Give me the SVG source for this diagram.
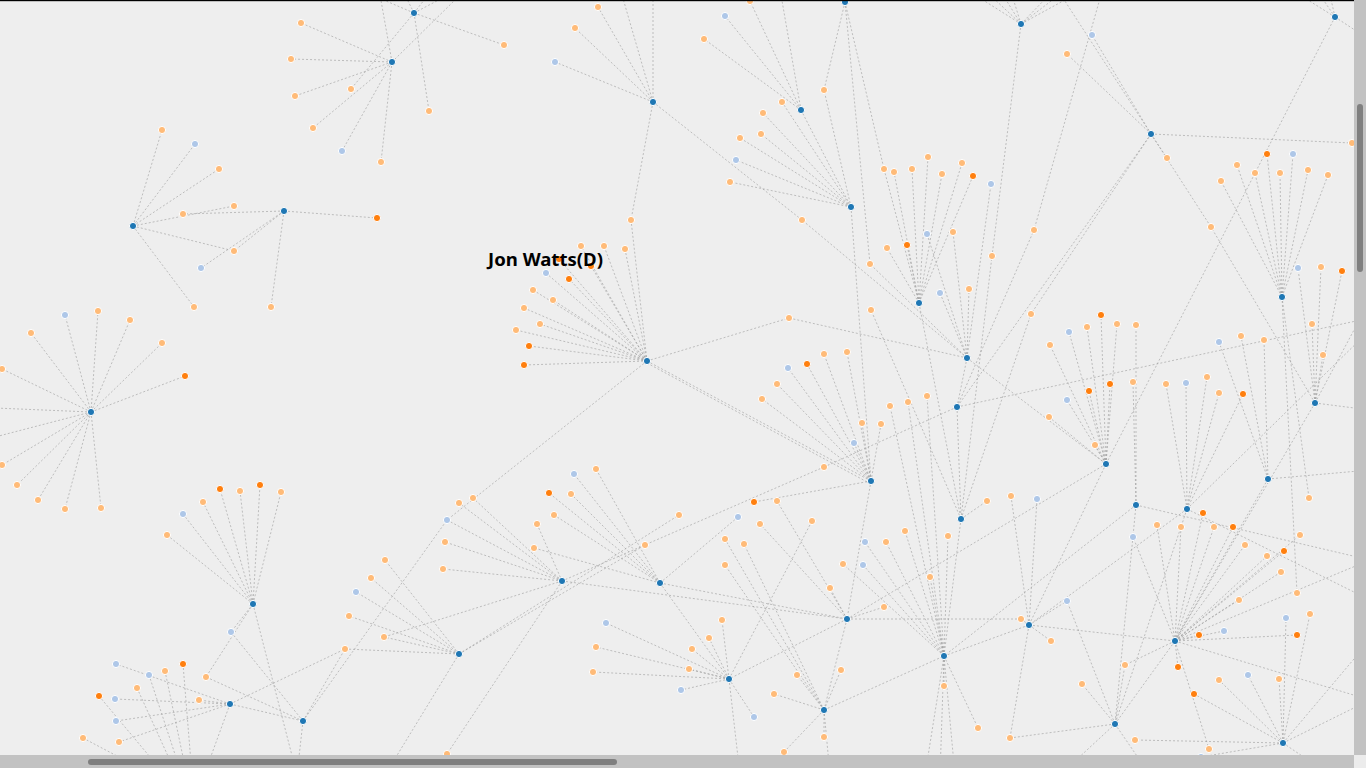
<svg xmlns="http://www.w3.org/2000/svg" width="1366" height="768" viewBox="0 0 1366 768">
<style>
.e{fill:none;stroke:#9a9a9a;stroke-opacity:.75;stroke-width:.8;stroke-dasharray:2 2}
circle{stroke:#fff;stroke-width:1}
.h{fill:#1f77b4}.lb{fill:#aec7e8}.o{fill:#ff7f0e}.lo{fill:#ffbb78}
.lbl{font-family:"Noto Sans","Liberation Sans",sans-serif;font-weight:bold;font-size:17px;fill:#000}
</style>
<rect width="1366" height="768" fill="#eeeeee"/>
<g id="links">
<path class="e" d="M414 13L504 45M414 13L429 111M414 13L351 89M414 13L372 -5M414 13L405 -5M414 13L428 -5M414 13L448 -5"/>
<path class="e" d="M392 62L301 23M392 62L291 59M392 62L295 96M392 62L313 128M392 62L342 151M392 62L381 162M392 62L460 -5M392 62L380 -5"/>
<path class="e" d="M653 102L555 62M653 102L575 28M653 102L598 7M653 102L622 -5M653 102L653 -5M653 102L631 220M653 102L802 220"/>
<path class="e" d="M845 2L824 90M845 2L884 169M845 2L870 264M845 2L830 -5"/>
<path class="e" d="M1021 24L992 256M1021 24L975 -5M1021 24L990 -5M1021 24L1003 -5M1021 24L1012 -5M1021 24L1049 -5M1021 24L1059 -5M1021 24L1074 -5"/>
<path class="e" d="M1335 17L1300 -5M1335 17L1320 -5M1335 17L1330 -5M1335 17L1370 40M1335 17L1106 464"/>
<path class="e" d="M801 110L704 39M801 110L725 16M801 110L750 1M801 110L781 -5M801 110L851 207"/>
<path class="e" d="M1151 134L1092 35M1151 134L1067 54M1151 134L1167 158M1151 134L1211 227M1151 134L1352 143M1151 134L1061 -5M1151 134L1031 314M1151 134L957 407M1101 -5L1034 230"/>
<path class="e" d="M851 207L782 102M851 207L763 113M851 207L740 138M851 207L761 134M851 207L736 160M851 207L730 182M851 207L824 90M851 207L871 481"/>
<path class="e" d="M133 226L162 130M133 226L195 144M133 226L219 169M133 226L234 206M133 226L234 251M133 226L194 307"/>
<path class="e" d="M284 211L183 214M284 211L234 251M284 211L201 268M284 211L271 307M284 211L377 218"/>
<path class="e" d="M647 361L546 273M647 361L569 279M647 361L591 266M647 361L559 259M647 361L533 290M647 361L553 300M647 361L524 308M647 361L540 324M647 361L516 330M647 361L529 346M647 361L524 365M647 361L581 246M647 361L604 246M647 361L625 249M647 361L631 220M647 361L789 318M647 361L447 520M647 361L871 481M647 363L869 483"/>
<path class="e" d="M91 412L65 315M91 412L98 311M91 412L130 320M91 412L31 333M91 412L162 343M91 412L185 376M91 412L2 369M91 412L-5 408M91 412L-5 437M91 412L2 465M91 412L17 485M91 412L38 500M91 412L65 509M91 412L101 508"/>
<path class="e" d="M919 303L884 169M919 303L894 172M919 303L912 169M919 303L928 157M919 303L942 174M919 303L962 163M919 303L973 176M919 303L887 248M919 303L907 245M919 303L961 519"/>
<path class="e" d="M967 358L927 234M967 358L953 232M967 358L991 184M967 358L969 289M967 358L940 293M967 358L802 220M967 358L789 318M967 358L957 407M967 358L1106 464M967 358L870 264"/>
<path class="e" d="M1282 297L1221 181M1282 297L1237 165M1282 297L1255 173M1282 297L1267 154M1282 297L1280 173M1282 297L1293 154M1282 297L1308 170M1282 297L1328 175M1282 297L1309 498M1282 297L1297 593"/>
<path class="e" d="M957 407L1034 230M957 407L824 467M957 407L1370 318M957 407L961 519M824 467L562 581"/>
<path class="e" d="M1315 403L1298 268M1315 403L1321 267M1315 403L1342 271M1315 403L1312 324M1315 403L1323 355M1315 403L1211 227M1315 403L1370 410M1315 403L1370 300M1315 403L1175 641"/>
<path class="e" d="M1106 464L1050 345M1106 464L1069 332M1106 464L1087 327M1106 464L1101 315M1106 464L1117 324M1106 464L1089 391M1106 464L1110 384M1106 464L1067 400M1106 464L1049 417M1106 464L1095 445M1106 464L1029 625M1106 464L847 619"/>
<path class="e" d="M871 481L847 352M871 481L824 354M871 481L807 364M871 481L788 368M871 481L777 384M871 481L762 399M871 481L862 423M871 481L881 424M871 481L854 443M871 481L754 502M871 481L847 619"/>
<path class="e" d="M1268 479L1219 342M1268 479L1241 336M1268 479L1264 340M1268 479L1175 641M1268 479L1370 470"/>
<path class="e" d="M1136 505L1136 325M1136 505L1133 382M1136 505L944 656M1136 505L1115 724M1136 505L1370 560"/>
<path class="e" d="M961 519L992 256M961 519L1031 314M961 519L871 310M961 519L944 656M961 519L987 501"/>
<path class="e" d="M1187 509L1166 384M1187 509L1186 383M1187 509L1207 377M1187 509L1219 393M1187 509L1243 394M1187 509L1029 625M1187 509L1115 724M1187 509L1370 330M1187 509L1370 600"/>
<path class="e" d="M253 604L183 514M253 604L167 535M253 604L203 502M253 604L220 489M253 604L240 491M253 604L260 485M253 604L281 492M253 604L231 632M253 604L206 677M253 604L297 775"/>
<path class="e" d="M562 581L443 569M562 581L445 542M562 581L537 524M562 581L447 520M562 581L459 503M562 581L473 498M562 581L847 619M562 581L384 637M562 581L447 754"/>
<path class="e" d="M660 583L574 474M660 583L596 469M660 583L549 493M660 583L571 494M660 583L534 548M660 583L554 515M660 583L738 517M660 583L729 679M660 583L847 619"/>
<path class="e" d="M847 619L830 588M847 619L760 524M847 619L777 501M847 619L884 607M847 619L1021 619M847 619L824 710M847 619L729 679"/>
<path class="e" d="M459 654L385 560M459 654L371 578M459 654L356 592M459 654L349 616M459 654L384 637M459 654L345 649M459 654L645 545M459 654L679 515M459 654L385 775"/>
<path class="e" d="M944 656L865 542M944 656L886 542M944 656L905 531M944 656L863 565M944 656L843 564M944 656L930 577M944 656L948 536M944 656L944 686M944 656L890 406M944 656L908 402M944 656L927 396M944 656L1029 625M944 656L925 775M944 656L940 775M944 656L955 775M944 656L978 728"/>
<path class="e" d="M1029 625L1051 641M1029 625L1067 601M1029 625L1021 619M1029 625L1011 496M1029 625L1037 499M1029 625L1175 641M1029 625L1010 738"/>
<path class="e" d="M1175 641L1157 525M1175 641L1181 527M1175 641L1203 513M1175 641L1214 527M1175 641L1233 527M1175 641L1133 537M1175 641L1245 545M1175 641L1267 556M1175 641L1284 551M1175 641L1281 572M1175 641L1239 600M1175 641L1224 631M1175 641L1199 635M1175 641L1297 635M1175 641L1178 667M1175 641L1300 535M1175 641L1125 665M1175 641L1209 749M1175 641L1370 560M1175 641L1370 700"/>
<path class="e" d="M230 704L116 664M230 704L115 699M230 704L199 700M230 704L116 721M230 704L119 742M230 704L345 649M230 704L303 721M230 704L195 800M149 675L190 800M165 671L192 800M183 664L194 800M137 688L188 800M99 696L186 800M83 738L200 800"/>
<path class="e" d="M303 721L231 632M303 721L206 677M303 721L447 520M303 721L345 649M303 721L297 775"/>
<path class="e" d="M729 679L722 620M729 679L709 638M729 679L692 649M729 679L689 669M729 679L681 690M729 679L606 623M729 679L596 647M729 679L593 672M729 679L754 717M729 679L812 521M729 679L740 775"/>
<path class="e" d="M824 710L725 565M824 710L744 544M824 710L725 539M824 710L797 675M824 710L774 694M824 710L824 737M824 710L784 752M824 710L841 670M824 710L944 656M824 710L830 775"/>
<path class="e" d="M1115 724L1082 684M1115 724L1125 665M1115 724L1067 601M1115 724L1175 641M1115 724L1010 738M1115 724L1060 775M1115 724L1150 775"/>
<path class="e" d="M1283 743L1219 680M1283 743L1248 675M1283 743L1279 679M1283 743L1194 694M1283 743L1135 740M1283 743L1310 614M1283 743L1286 618M1283 743L1201 757M1283 743L1370 700M1283 743L1370 640M1283 743L1330 775"/>
</g>
<g id="nodes">
<g id="h1"><circle class="h" cx="414" cy="13" r="3.6"/></g>
<g id="h2"><circle class="h" cx="392" cy="62" r="3.6"/></g>
<g id="h3"><circle class="h" cx="653" cy="102" r="3.6"/></g>
<g id="h4"><circle class="h" cx="845" cy="2" r="3.6"/></g>
<g id="h5"><circle class="h" cx="1021" cy="24" r="3.6"/></g>
<g id="h6"><circle class="h" cx="1335" cy="17" r="3.6"/></g>
<g id="h7"><circle class="h" cx="801" cy="110" r="3.6"/></g>
<g id="h8"><circle class="h" cx="1151" cy="134" r="3.6"/></g>
<g id="h9"><circle class="h" cx="851" cy="207" r="3.6"/></g>
<g id="h10"><circle class="h" cx="133" cy="226" r="3.6"/></g>
<g id="h11"><circle class="h" cx="284" cy="211" r="3.6"/></g>
<g id="h12"><circle class="h" cx="647" cy="361" r="3.6"/></g>
<g id="h13"><circle class="h" cx="91" cy="412" r="3.6"/></g>
<g id="h14"><circle class="h" cx="919" cy="303" r="3.6"/></g>
<g id="h15"><circle class="h" cx="967" cy="358" r="3.6"/></g>
<g id="h16"><circle class="h" cx="1282" cy="297" r="3.6"/></g>
<g id="h17"><circle class="h" cx="957" cy="407" r="3.6"/></g>
<g id="h18"><circle class="h" cx="1315" cy="403" r="3.6"/></g>
<g id="h19"><circle class="h" cx="1106" cy="464" r="3.6"/></g>
<g id="h20"><circle class="h" cx="871" cy="481" r="3.6"/></g>
<g id="h21"><circle class="h" cx="1268" cy="479" r="3.6"/></g>
<g id="h22"><circle class="h" cx="1136" cy="505" r="3.6"/></g>
<g id="h23"><circle class="h" cx="961" cy="519" r="3.6"/></g>
<g id="h24"><circle class="h" cx="1187" cy="509" r="3.6"/></g>
<g id="h25"><circle class="h" cx="253" cy="604" r="3.6"/></g>
<g id="h26"><circle class="h" cx="562" cy="581" r="3.6"/></g>
<g id="h27"><circle class="h" cx="660" cy="583" r="3.6"/></g>
<g id="h28"><circle class="h" cx="847" cy="619" r="3.6"/></g>
<g id="h29"><circle class="h" cx="459" cy="654" r="3.6"/></g>
<g id="h30"><circle class="h" cx="944" cy="656" r="3.6"/></g>
<g id="h31"><circle class="h" cx="1029" cy="625" r="3.6"/></g>
<g id="h32"><circle class="h" cx="1175" cy="641" r="3.6"/></g>
<g id="h33"><circle class="h" cx="230" cy="704" r="3.6"/></g>
<g id="h34"><circle class="h" cx="303" cy="721" r="3.6"/></g>
<g id="h35"><circle class="h" cx="729" cy="679" r="3.6"/></g>
<g id="h36"><circle class="h" cx="824" cy="710" r="3.6"/></g>
<g id="h37"><circle class="h" cx="1115" cy="724" r="3.6"/></g>
<g id="h38"><circle class="h" cx="1283" cy="743" r="3.6"/></g>
<g id="n1"><circle class="lo" cx="301" cy="23" r="3.6"/></g>
<g id="n2"><circle class="lo" cx="291" cy="59" r="3.6"/></g>
<g id="n3"><circle class="lo" cx="295" cy="96" r="3.6"/></g>
<g id="n4"><circle class="lo" cx="313" cy="128" r="3.6"/></g>
<g id="n5"><circle class="lb" cx="342" cy="151" r="3.6"/></g>
<g id="n6"><circle class="lo" cx="351" cy="89" r="3.6"/></g>
<g id="n7"><circle class="lo" cx="381" cy="162" r="3.6"/></g>
<g id="n8"><circle class="lo" cx="429" cy="111" r="3.6"/></g>
<g id="n9"><circle class="lo" cx="504" cy="45" r="3.6"/></g>
<g id="n10"><circle class="lo" cx="162" cy="130" r="3.6"/></g>
<g id="n11"><circle class="lb" cx="195" cy="144" r="3.6"/></g>
<g id="n12"><circle class="lo" cx="219" cy="169" r="3.6"/></g>
<g id="n13"><circle class="lo" cx="234" cy="206" r="3.6"/></g>
<g id="n14"><circle class="lo" cx="183" cy="214" r="3.6"/></g>
<g id="n15"><circle class="lo" cx="234" cy="251" r="3.6"/></g>
<g id="n16"><circle class="lb" cx="201" cy="268" r="3.6"/></g>
<g id="n17"><circle class="lo" cx="194" cy="307" r="3.6"/></g>
<g id="n18"><circle class="lo" cx="271" cy="307" r="3.6"/></g>
<g id="n19"><circle class="o" cx="377" cy="218" r="3.6"/></g>
<g id="n20"><circle class="lb" cx="555" cy="62" r="3.6"/></g>
<g id="n21"><circle class="lo" cx="575" cy="28" r="3.6"/></g>
<g id="n22"><circle class="lo" cx="598" cy="7" r="3.6"/></g>
<g id="n23"><circle class="lo" cx="631" cy="220" r="3.6"/></g>
<g id="n24"><circle class="lo" cx="704" cy="39" r="3.6"/></g>
<g id="n25"><circle class="lb" cx="725" cy="16" r="3.6"/></g>
<g id="n26"><circle class="lo" cx="750" cy="1" r="3.6"/></g>
<g id="n27"><circle class="lo" cx="824" cy="90" r="3.6"/></g>
<g id="n28"><circle class="lo" cx="782" cy="102" r="3.6"/></g>
<g id="n29"><circle class="lo" cx="763" cy="113" r="3.6"/></g>
<g id="n30"><circle class="lo" cx="740" cy="138" r="3.6"/></g>
<g id="n31"><circle class="lo" cx="761" cy="134" r="3.6"/></g>
<g id="n32"><circle class="lb" cx="736" cy="160" r="3.6"/></g>
<g id="n33"><circle class="lo" cx="730" cy="182" r="3.6"/></g>
<g id="n34"><circle class="lo" cx="802" cy="220" r="3.6"/></g>
<g id="n35"><circle class="lo" cx="884" cy="169" r="3.6"/></g>
<g id="n36"><circle class="lo" cx="894" cy="172" r="3.6"/></g>
<g id="n37"><circle class="lo" cx="912" cy="169" r="3.6"/></g>
<g id="n38"><circle class="lo" cx="928" cy="157" r="3.6"/></g>
<g id="n39"><circle class="lo" cx="942" cy="174" r="3.6"/></g>
<g id="n40"><circle class="lo" cx="962" cy="163" r="3.6"/></g>
<g id="n41"><circle class="o" cx="973" cy="176" r="3.6"/></g>
<g id="n42"><circle class="lb" cx="991" cy="184" r="3.6"/></g>
<g id="n43"><circle class="lb" cx="927" cy="234" r="3.6"/></g>
<g id="n44"><circle class="o" cx="907" cy="245" r="3.6"/></g>
<g id="n45"><circle class="lo" cx="887" cy="248" r="3.6"/></g>
<g id="n46"><circle class="lo" cx="953" cy="232" r="3.6"/></g>
<g id="n47"><circle class="lo" cx="992" cy="256" r="3.6"/></g>
<g id="n48"><circle class="lo" cx="870" cy="264" r="3.6"/></g>
<g id="n49"><circle class="lb" cx="940" cy="293" r="3.6"/></g>
<g id="n50"><circle class="lo" cx="969" cy="289" r="3.6"/></g>
<g id="n51"><circle class="lo" cx="871" cy="310" r="3.6"/></g>
<g id="n52"><circle class="lo" cx="789" cy="318" r="3.6"/></g>
<g id="n53"><circle class="lb" cx="1092" cy="35" r="3.6"/></g>
<g id="n54"><circle class="lo" cx="1067" cy="54" r="3.6"/></g>
<g id="n55"><circle class="lo" cx="1167" cy="158" r="3.6"/></g>
<g id="n56"><circle class="lo" cx="1352" cy="143" r="3.6"/></g>
<g id="n57"><circle class="o" cx="1267" cy="154" r="3.6"/></g>
<g id="n58"><circle class="lb" cx="1293" cy="154" r="3.6"/></g>
<g id="n59"><circle class="lo" cx="1237" cy="165" r="3.6"/></g>
<g id="n60"><circle class="lo" cx="1255" cy="173" r="3.6"/></g>
<g id="n61"><circle class="lo" cx="1280" cy="173" r="3.6"/></g>
<g id="n62"><circle class="lo" cx="1308" cy="170" r="3.6"/></g>
<g id="n63"><circle class="lo" cx="1328" cy="175" r="3.6"/></g>
<g id="n64"><circle class="lo" cx="1221" cy="181" r="3.6"/></g>
<g id="n65"><circle class="lo" cx="1211" cy="227" r="3.6"/></g>
<g id="n66"><circle class="lo" cx="1034" cy="230" r="3.6"/></g>
<g id="n67"><circle class="lo" cx="1031" cy="314" r="3.6"/></g>
<g id="n68"><circle class="lb" cx="1298" cy="268" r="3.6"/></g>
<g id="n69"><circle class="lo" cx="1321" cy="267" r="3.6"/></g>
<g id="n70"><circle class="o" cx="1342" cy="271" r="3.6"/></g>
<g id="n71"><circle class="o" cx="1101" cy="315" r="3.6"/></g>
<g id="n72"><circle class="lo" cx="1087" cy="327" r="3.6"/></g>
<g id="n73"><circle class="lo" cx="1117" cy="324" r="3.6"/></g>
<g id="n74"><circle class="lo" cx="1136" cy="325" r="3.6"/></g>
<g id="n75"><circle class="lb" cx="1069" cy="332" r="3.6"/></g>
<g id="n76"><circle class="lo" cx="1050" cy="345" r="3.6"/></g>
<g id="n77"><circle class="lo" cx="1312" cy="324" r="3.6"/></g>
<g id="n78"><circle class="lo" cx="1323" cy="355" r="3.6"/></g>
<g id="n79"><circle class="lb" cx="1219" cy="342" r="3.6"/></g>
<g id="n80"><circle class="lo" cx="1241" cy="336" r="3.6"/></g>
<g id="n81"><circle class="lo" cx="1264" cy="340" r="3.6"/></g>
<g id="n82"><circle class="o" cx="1089" cy="391" r="3.6"/></g>
<g id="n83"><circle class="o" cx="1110" cy="384" r="3.6"/></g>
<g id="n84"><circle class="lo" cx="1133" cy="382" r="3.6"/></g>
<g id="n85"><circle class="lo" cx="1166" cy="384" r="3.6"/></g>
<g id="n86"><circle class="lb" cx="1186" cy="383" r="3.6"/></g>
<g id="n87"><circle class="lo" cx="1207" cy="377" r="3.6"/></g>
<g id="n88"><circle class="lo" cx="1219" cy="393" r="3.6"/></g>
<g id="n89"><circle class="o" cx="1243" cy="394" r="3.6"/></g>
<g id="n90"><circle class="lb" cx="1067" cy="400" r="3.6"/></g>
<g id="n91"><circle class="lo" cx="1049" cy="417" r="3.6"/></g>
<g id="n92"><circle class="lo" cx="1095" cy="445" r="3.6"/></g>
<g id="n93"><circle class="lb" cx="1037" cy="499" r="3.6"/></g>
<g id="n94"><circle class="lo" cx="1309" cy="498" r="3.6"/></g>
<g id="n95"><circle class="lb" cx="65" cy="315" r="3.6"/></g>
<g id="n96"><circle class="lo" cx="98" cy="311" r="3.6"/></g>
<g id="n97"><circle class="lo" cx="130" cy="320" r="3.6"/></g>
<g id="n98"><circle class="lo" cx="31" cy="333" r="3.6"/></g>
<g id="n99"><circle class="lo" cx="162" cy="343" r="3.6"/></g>
<g id="n100"><circle class="o" cx="185" cy="376" r="3.6"/></g>
<g id="n101"><circle class="lo" cx="2" cy="369" r="3.6"/></g>
<g id="n102"><circle class="lo" cx="2" cy="465" r="3.6"/></g>
<g id="n103"><circle class="lo" cx="17" cy="485" r="3.6"/></g>
<g id="n104"><circle class="lo" cx="38" cy="500" r="3.6"/></g>
<g id="n105"><circle class="lo" cx="65" cy="509" r="3.6"/></g>
<g id="n106"><circle class="lo" cx="101" cy="508" r="3.6"/></g>
<g id="n107"><circle class="lb" cx="546" cy="273" r="3.6"/></g>
<g id="n108"><circle class="o" cx="569" cy="279" r="3.6"/></g>
<g id="n109"><circle class="o" cx="591" cy="266" r="3.6"/></g>
<g id="n110"><circle class="o" cx="559" cy="259" r="3.6"/></g>
<g id="n111"><circle class="lo" cx="533" cy="290" r="3.6"/></g>
<g id="n112"><circle class="lo" cx="553" cy="300" r="3.6"/></g>
<g id="n113"><circle class="lo" cx="524" cy="308" r="3.6"/></g>
<g id="n114"><circle class="lo" cx="540" cy="324" r="3.6"/></g>
<g id="n115"><circle class="lo" cx="516" cy="330" r="3.6"/></g>
<g id="n116"><circle class="o" cx="529" cy="346" r="3.6"/></g>
<g id="n117"><circle class="o" cx="524" cy="365" r="3.6"/></g>
<g id="n118"><circle class="lo" cx="581" cy="246" r="3.6"/></g>
<g id="n119"><circle class="lo" cx="604" cy="246" r="3.6"/></g>
<g id="n120"><circle class="lo" cx="625" cy="249" r="3.6"/></g>
<g id="n121"><circle class="lo" cx="847" cy="352" r="3.6"/></g>
<g id="n122"><circle class="lo" cx="824" cy="354" r="3.6"/></g>
<g id="n123"><circle class="o" cx="807" cy="364" r="3.6"/></g>
<g id="n124"><circle class="lb" cx="788" cy="368" r="3.6"/></g>
<g id="n125"><circle class="lo" cx="777" cy="384" r="3.6"/></g>
<g id="n126"><circle class="lo" cx="762" cy="399" r="3.6"/></g>
<g id="n127"><circle class="lo" cx="927" cy="396" r="3.6"/></g>
<g id="n128"><circle class="lo" cx="908" cy="402" r="3.6"/></g>
<g id="n129"><circle class="lo" cx="890" cy="406" r="3.6"/></g>
<g id="n130"><circle class="lo" cx="862" cy="423" r="3.6"/></g>
<g id="n131"><circle class="lo" cx="881" cy="424" r="3.6"/></g>
<g id="n132"><circle class="lb" cx="854" cy="443" r="3.6"/></g>
<g id="n133"><circle class="lo" cx="824" cy="467" r="3.6"/></g>
<g id="n134"><circle class="o" cx="754" cy="502" r="3.6"/></g>
<g id="n135"><circle class="lo" cx="777" cy="501" r="3.6"/></g>
<g id="n136"><circle class="lo" cx="987" cy="501" r="3.6"/></g>
<g id="n137"><circle class="lo" cx="1011" cy="496" r="3.6"/></g>
<g id="n138"><circle class="lb" cx="183" cy="514" r="3.6"/></g>
<g id="n139"><circle class="lo" cx="167" cy="535" r="3.6"/></g>
<g id="n140"><circle class="lo" cx="203" cy="502" r="3.6"/></g>
<g id="n141"><circle class="o" cx="220" cy="489" r="3.6"/></g>
<g id="n142"><circle class="lo" cx="240" cy="491" r="3.6"/></g>
<g id="n143"><circle class="o" cx="260" cy="485" r="3.6"/></g>
<g id="n144"><circle class="lo" cx="281" cy="492" r="3.6"/></g>
<g id="n145"><circle class="lb" cx="231" cy="632" r="3.6"/></g>
<g id="n146"><circle class="lb" cx="116" cy="664" r="3.6"/></g>
<g id="n147"><circle class="lb" cx="149" cy="675" r="3.6"/></g>
<g id="n148"><circle class="lo" cx="165" cy="671" r="3.6"/></g>
<g id="n149"><circle class="o" cx="183" cy="664" r="3.6"/></g>
<g id="n150"><circle class="lo" cx="206" cy="677" r="3.6"/></g>
<g id="n151"><circle class="lo" cx="137" cy="688" r="3.6"/></g>
<g id="n152"><circle class="o" cx="99" cy="696" r="3.6"/></g>
<g id="n153"><circle class="lb" cx="115" cy="699" r="3.6"/></g>
<g id="n154"><circle class="lo" cx="199" cy="700" r="3.6"/></g>
<g id="n155"><circle class="lb" cx="116" cy="721" r="3.6"/></g>
<g id="n156"><circle class="lo" cx="83" cy="738" r="3.6"/></g>
<g id="n157"><circle class="lo" cx="119" cy="742" r="3.6"/></g>
<g id="n158"><circle class="lb" cx="574" cy="474" r="3.6"/></g>
<g id="n159"><circle class="lo" cx="596" cy="469" r="3.6"/></g>
<g id="n160"><circle class="o" cx="549" cy="493" r="3.6"/></g>
<g id="n161"><circle class="lo" cx="571" cy="494" r="3.6"/></g>
<g id="n162"><circle class="lo" cx="459" cy="503" r="3.6"/></g>
<g id="n163"><circle class="lo" cx="473" cy="498" r="3.6"/></g>
<g id="n164"><circle class="lb" cx="447" cy="520" r="3.6"/></g>
<g id="n165"><circle class="lo" cx="537" cy="524" r="3.6"/></g>
<g id="n166"><circle class="lo" cx="554" cy="515" r="3.6"/></g>
<g id="n167"><circle class="lo" cx="445" cy="542" r="3.6"/></g>
<g id="n168"><circle class="lo" cx="534" cy="548" r="3.6"/></g>
<g id="n169"><circle class="lo" cx="443" cy="569" r="3.6"/></g>
<g id="n170"><circle class="lo" cx="385" cy="560" r="3.6"/></g>
<g id="n171"><circle class="lo" cx="371" cy="578" r="3.6"/></g>
<g id="n172"><circle class="lb" cx="356" cy="592" r="3.6"/></g>
<g id="n173"><circle class="lo" cx="349" cy="616" r="3.6"/></g>
<g id="n174"><circle class="lo" cx="384" cy="637" r="3.6"/></g>
<g id="n175"><circle class="lo" cx="345" cy="649" r="3.6"/></g>
<g id="n176"><circle class="lo" cx="645" cy="545" r="3.6"/></g>
<g id="n177"><circle class="lo" cx="679" cy="515" r="3.6"/></g>
<g id="n178"><circle class="lb" cx="606" cy="623" r="3.6"/></g>
<g id="n179"><circle class="lo" cx="596" cy="647" r="3.6"/></g>
<g id="n180"><circle class="lo" cx="593" cy="672" r="3.6"/></g>
<g id="n181"><circle class="lb" cx="681" cy="690" r="3.6"/></g>
<g id="n182"><circle class="lo" cx="447" cy="754" r="3.6"/></g>
<g id="n183"><circle class="lb" cx="738" cy="517" r="3.6"/></g>
<g id="n184"><circle class="lo" cx="760" cy="524" r="3.6"/></g>
<g id="n185"><circle class="lo" cx="812" cy="521" r="3.6"/></g>
<g id="n186"><circle class="lo" cx="725" cy="539" r="3.6"/></g>
<g id="n187"><circle class="lo" cx="744" cy="544" r="3.6"/></g>
<g id="n188"><circle class="lo" cx="725" cy="565" r="3.6"/></g>
<g id="n189"><circle class="lb" cx="865" cy="542" r="3.6"/></g>
<g id="n190"><circle class="lo" cx="886" cy="542" r="3.6"/></g>
<g id="n191"><circle class="lo" cx="905" cy="531" r="3.6"/></g>
<g id="n192"><circle class="lo" cx="948" cy="536" r="3.6"/></g>
<g id="n193"><circle class="lo" cx="843" cy="564" r="3.6"/></g>
<g id="n194"><circle class="lb" cx="863" cy="565" r="3.6"/></g>
<g id="n195"><circle class="lo" cx="930" cy="577" r="3.6"/></g>
<g id="n196"><circle class="lo" cx="830" cy="588" r="3.6"/></g>
<g id="n197"><circle class="lo" cx="884" cy="607" r="3.6"/></g>
<g id="n198"><circle class="lo" cx="1021" cy="619" r="3.6"/></g>
<g id="n199"><circle class="lo" cx="722" cy="620" r="3.6"/></g>
<g id="n200"><circle class="lo" cx="709" cy="638" r="3.6"/></g>
<g id="n201"><circle class="lo" cx="692" cy="649" r="3.6"/></g>
<g id="n202"><circle class="lo" cx="689" cy="669" r="3.6"/></g>
<g id="n203"><circle class="lo" cx="797" cy="675" r="3.6"/></g>
<g id="n204"><circle class="lo" cx="841" cy="670" r="3.6"/></g>
<g id="n205"><circle class="lo" cx="774" cy="694" r="3.6"/></g>
<g id="n206"><circle class="lb" cx="754" cy="717" r="3.6"/></g>
<g id="n207"><circle class="lo" cx="944" cy="686" r="3.6"/></g>
<g id="n208"><circle class="lo" cx="824" cy="737" r="3.6"/></g>
<g id="n209"><circle class="lo" cx="784" cy="752" r="3.6"/></g>
<g id="n210"><circle class="lo" cx="978" cy="728" r="3.6"/></g>
<g id="n211"><circle class="lo" cx="1010" cy="738" r="3.6"/></g>
<g id="n212"><circle class="lo" cx="1157" cy="525" r="3.6"/></g>
<g id="n213"><circle class="lo" cx="1181" cy="527" r="3.6"/></g>
<g id="n214"><circle class="lo" cx="1214" cy="527" r="3.6"/></g>
<g id="n215"><circle class="o" cx="1233" cy="527" r="3.6"/></g>
<g id="n216"><circle class="o" cx="1203" cy="513" r="3.6"/></g>
<g id="n217"><circle class="lo" cx="1300" cy="535" r="3.6"/></g>
<g id="n218"><circle class="lo" cx="1245" cy="545" r="3.6"/></g>
<g id="n219"><circle class="lo" cx="1267" cy="556" r="3.6"/></g>
<g id="n220"><circle class="o" cx="1284" cy="551" r="3.6"/></g>
<g id="n221"><circle class="lo" cx="1281" cy="572" r="3.6"/></g>
<g id="n222"><circle class="lb" cx="1133" cy="537" r="3.6"/></g>
<g id="n223"><circle class="lo" cx="1297" cy="593" r="3.6"/></g>
<g id="n224"><circle class="lo" cx="1239" cy="600" r="3.6"/></g>
<g id="n225"><circle class="lo" cx="1310" cy="614" r="3.6"/></g>
<g id="n226"><circle class="lb" cx="1286" cy="618" r="3.6"/></g>
<g id="n227"><circle class="lb" cx="1224" cy="631" r="3.6"/></g>
<g id="n228"><circle class="o" cx="1199" cy="635" r="3.6"/></g>
<g id="n229"><circle class="o" cx="1297" cy="635" r="3.6"/></g>
<g id="n230"><circle class="lb" cx="1067" cy="601" r="3.6"/></g>
<g id="n231"><circle class="lo" cx="1051" cy="641" r="3.6"/></g>
<g id="n232"><circle class="lo" cx="1125" cy="665" r="3.6"/></g>
<g id="n233"><circle class="o" cx="1178" cy="667" r="3.6"/></g>
<g id="n234"><circle class="lo" cx="1082" cy="684" r="3.6"/></g>
<g id="n235"><circle class="lo" cx="1219" cy="680" r="3.6"/></g>
<g id="n236"><circle class="lb" cx="1248" cy="675" r="3.6"/></g>
<g id="n237"><circle class="lo" cx="1279" cy="679" r="3.6"/></g>
<g id="n238"><circle class="o" cx="1194" cy="694" r="3.6"/></g>
<g id="n239"><circle class="lo" cx="1135" cy="740" r="3.6"/></g>
<g id="n240"><circle class="lo" cx="1209" cy="749" r="3.6"/></g>
<g id="n241"><circle class="lb" cx="1201" cy="757" r="3.6"/></g>
</g>
<g id="label"><text class="lbl" x="488" y="266" textLength="115" lengthAdjust="spacingAndGlyphs">Jon Watts(D)</text></g>
<g id="scrollbars">
<rect x="0" y="0" width="1366" height="1.2" fill="#000"/>
<rect x="1354" y="0" width="12" height="755" fill="#c2c2c2"/>
<rect x="1357" y="104" width="6" height="168" rx="3" fill="#7f7f7f"/>
<rect x="0" y="755" width="1354" height="13" fill="#c2c2c2"/>
<rect x="88" y="759" width="529" height="6" rx="3" fill="#7f7f7f"/>
<rect x="1354" y="755" width="12" height="13" fill="#ececec"/>
</g>
</svg>
